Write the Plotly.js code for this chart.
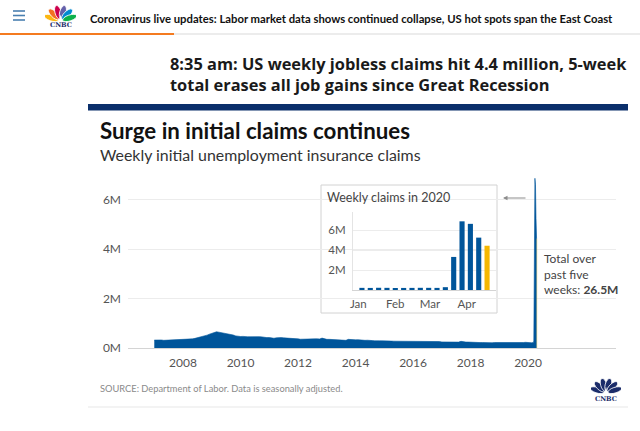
<!DOCTYPE html>
<html><head><meta charset="utf-8">
<script src="https://cdn.plot.ly/plotly-3.0.1.min.js"></script>
<style>html,body{margin:0;padding:0;background:#fff;overflow:hidden}#chart{width:640px;height:431px}</style>
</head><body><div id="chart"></div>
<script>
// ---- DATA (weekly initial claims, monthly readings in thousands) ----
const claims2007 = [320, 330, 320, 325, 310, 315, 305, 320, 315, 330, 335, 345];
const claims2008 = [345, 355, 365, 370, 370, 390, 410, 440, 465, 480, 520, 560];
const claims2009 = [585, 630, 655, 640, 625, 610, 565, 565, 545, 525, 490, 470];
const claims2010 = [465, 470, 455, 455, 455, 460, 460, 480, 460, 450, 430, 420];
const claims2011 = [425, 400, 395, 410, 420, 420, 410, 405, 410, 400, 395, 375];
const claims2012 = [370, 355, 360, 375, 375, 380, 370, 370, 370, 365, 400, 370];
const claims2013 = [350, 350, 345, 345, 345, 345, 340, 330, 310, 350, 335, 340];
const claims2014 = [330, 335, 320, 310, 310, 315, 295, 300, 290, 280, 290, 290];
const claims2015 = [295, 295, 285, 280, 275, 275, 270, 270, 265, 260, 270, 275];
const claims2016 = [280, 265, 260, 255, 265, 265, 260, 262, 255, 255, 250, 260];
const claims2017 = [245, 240, 245, 245, 240, 242, 245, 238, 270, 240, 240, 240];
const claims2018 = [230, 225, 225, 225, 220, 222, 215, 212, 208, 212, 222, 220];
const claims2019 = [222, 230, 215, 210, 215, 218, 212, 215, 212, 215, 222, 230];
const histYears = [2007,2008,2009,2010,2011,2012,2013,2014,2015,2016,2017,2018,2019];
const histByYear = [claims2007,claims2008,claims2009,claims2010,claims2011,claims2012,claims2013,
                    claims2014,claims2015,claims2016,claims2017,claims2018,claims2019];

const weeks2020 = ['2020-01-04','2020-01-11','2020-01-18','2020-01-25','2020-02-01','2020-02-08',
                   '2020-02-15','2020-02-22','2020-02-29','2020-03-07','2020-03-14','2020-03-21',
                   '2020-03-28','2020-04-04','2020-04-11','2020-04-18'];
const claims2020 = [214000, 207000, 223000, 216000, 203000, 206000, 211000, 219000, 217000, 211000,
                    282000, 3307000, 6867000, 6615000, 5237000, 4427000];

const mainTickVals = ['2008-01-01','2010-01-01','2012-01-01','2014-01-01','2016-01-01','2018-01-01','2020-01-01'];
const mainTickText = ['2008','2010','2012','2014','2016','2018','2020'];
const yTickVals = [0, 2000000, 4000000, 6000000];
const yTickText = ['0M','2M','4M','6M'];
const insetYTickVals = [2000000, 4000000, 6000000];
const insetYTickText = ['2M','4M','6M'];
const monthTickVals = ['2020-01-01','2020-02-01','2020-03-01','2020-04-01'];
const monthTickText = ['Jan','Feb','Mar','Apr'];

// ---- build series ----
const histDates = [], histClaims = [];
histYears.forEach((yr, i) => histByYear[i].forEach((v, m) => {
  histDates.push(yr + '-' + String(m + 1).padStart(2, '0') + '-01');
  histClaims.push(v * 1000);
}));
const allDates = histDates.concat(weeks2020);
const allClaims = histClaims.concat(claims2020);
const lastIdx = claims2020.length - 1;
const fiveWeekTotal = claims2020.slice(-5).reduce((a, b) => a + b, 0);
const fiveWeekText = (fiveWeekTotal / 1e6).toFixed(1) + 'M';

const BLUE = '#00559a', GOLD = '#f5b700', NAVY = '#0b2f6b';
const DAY = 86400000;

// ---- pixel helpers for page furniture ----
const L = 128, R = 616, T = 175, B = 348;
const px = x => (x - L) / (R - L);
const py = y => (B - y) / (B - T);

function peacock(colors) {
  const angles = [-70, -42, -14, 14, 42, 70];
  let s = '<svg xmlns="http://www.w3.org/2000/svg" viewBox="0 0 60 40">';
  angles.forEach((a, i) => {
    s += '<ellipse cx="30" cy="19" rx="6.2" ry="14.5" fill="' + colors[i] +
         '" stroke="#fff" stroke-width="1.6" transform="rotate(' + a + ' 30 38)"/>';
  });
  s += '<path d="M27 38 L30 24 L33 38 Z" fill="#fff"/></svg>';
  return 'data:image/svg+xml;charset=utf-8,' + encodeURIComponent(s);
}
const peacockColor = peacock(['#fcb711','#f37021','#cc004c','#6460aa','#0089d0','#0db14b']);
const peacockNavy = peacock(['#1b2c6a','#1b2c6a','#1b2c6a','#1b2c6a','#1b2c6a','#1b2c6a']);

const FONT = 'Lato, "Open Sans", sans-serif';
const HFONT = '"Open Sans", Lato, sans-serif';

const traces = [
  { type: 'scatter', mode: 'lines', x: allDates, y: allClaims, xaxis: 'x', yaxis: 'y',
    fill: 'tozeroy', fillcolor: BLUE, line: { color: BLUE, width: 0.6 }, hoverinfo: 'skip' },
  { type: 'bar', x: [weeks2020[lastIdx]], y: [claims2020[lastIdx]], xaxis: 'x', yaxis: 'y',
    width: [7 * DAY], offset: 0, marker: { color: GOLD, line: { width: 0 } }, hoverinfo: 'skip' },
  { type: 'bar', x: weeks2020, y: claims2020, xaxis: 'x2', yaxis: 'y2',
    width: weeks2020.map(() => 4.3 * DAY),
    marker: { color: claims2020.map((v, i) => i === lastIdx ? GOLD : BLUE), line: { width: 0 } },
    hoverinfo: 'skip' }
];

const ann = (x, y, text, size, color, extra) => Object.assign({
  xref: 'paper', yref: 'paper', x: px(x), y: py(y), text: text, showarrow: false,
  xanchor: 'left', yanchor: 'middle', font: { family: FONT, size: size, color: color }
}, extra || {});

const layout = {
  width: 640, height: 431,
  margin: { l: L, r: 640 - R, t: T, b: 431 - B, pad: 0 },
  paper_bgcolor: '#fff', plot_bgcolor: 'rgba(0,0,0,0)',
  showlegend: false, barmode: 'overlay',
  font: { family: FONT, color: '#555' },
  xaxis: { type: 'date', range: ['2006-02-01', '2023-01-22'], tickmode: 'array',
    tickvals: mainTickVals, ticktext: mainTickText, showgrid: false, zeroline: false,
    showline: true, linecolor: '#d4d4d4', linewidth: 1, ticks: '', ticklabelstandoff: 4,
    tickfont: { size: 12, color: '#555' }, fixedrange: true },
  yaxis: { range: [0, 7000000], tickmode: 'array', tickvals: yTickVals, ticktext: yTickText,
    showgrid: true, gridcolor: '#ececec', gridwidth: 1, zeroline: false, showline: false,
    ticks: '', ticklabelstandoff: 6, tickfont: { size: 12, color: '#555' }, fixedrange: true },
  xaxis2: { domain: [px(353), px(496)], anchor: 'y2', type: 'date',
    range: ['2019-12-27 12:00', '2020-04-25 12:00'], tickmode: 'array',
    tickvals: monthTickVals, ticktext: monthTickText, showgrid: false, zeroline: false,
    showline: true, linecolor: '#d4d4d4', ticks: '', ticklabelstandoff: 3,
    tickfont: { size: 11.5, color: '#555' }, fixedrange: true },
  yaxis2: { domain: [py(290), py(212)], anchor: 'x2', range: [0, 7800000], tickmode: 'array',
    tickvals: insetYTickVals, ticktext: insetYTickText, showgrid: true, gridcolor: '#ececec',
    zeroline: false, showline: true, linecolor: '#e4e4e4', ticks: '', ticklabelstandoff: 4,
    tickfont: { size: 11.5, color: '#555' }, fixedrange: true },
  shapes: [
    // inset panel
    { type: 'rect', xref: 'x2 domain', yref: 'y2 domain', x0: (321 - 353) / 143, x1: (497 - 353) / 143,
      y0: (290 - 313) / 78, y1: (290 - 185) / 78, fillcolor: '#fff',
      line: { color: '#d2d2d2', width: 1 }, layer: 'below' },
    // header furniture
    { type: 'line', xref: 'paper', yref: 'paper', x0: px(13), x1: px(25), y0: py(11), y1: py(11), line: { color: '#4a7fb0', width: 1.6 } },
    { type: 'line', xref: 'paper', yref: 'paper', x0: px(13), x1: px(25), y0: py(15.5), y1: py(15.5), line: { color: '#4a7fb0', width: 1.6 } },
    { type: 'line', xref: 'paper', yref: 'paper', x0: px(13), x1: px(25), y0: py(20), y1: py(20), line: { color: '#4a7fb0', width: 1.6 } },
    { type: 'line', xref: 'paper', yref: 'paper', x0: px(0), x1: px(174), y0: py(34), y1: py(34), line: { color: '#f47b20', width: 2 } },
    { type: 'line', xref: 'paper', yref: 'paper', x0: px(174), x1: px(640), y0: py(34), y1: py(34), line: { color: '#ececec', width: 2 } },
    { type: 'rect', xref: 'paper', yref: 'paper', x0: px(88), x1: px(628), y0: py(110.5), y1: py(104), fillcolor: NAVY, line: { width: 0 } },
    { type: 'line', xref: 'paper', yref: 'paper', x0: px(88), x1: px(628), y0: py(407), y1: py(407), line: { color: '#efefef', width: 1.5 } }
  ],
  images: [
    { source: peacockColor, xref: 'paper', yref: 'paper', x: px(45), y: py(3), sizex: 31 / (R - L), sizey: 19 / (B - T),
      xanchor: 'left', yanchor: 'top', sizing: 'stretch', layer: 'above' },
    { source: peacockNavy, xref: 'paper', yref: 'paper', x: px(591), y: py(376), sizex: 30 / (R - L), sizey: 18 / (B - T),
      xanchor: 'left', yanchor: 'top', sizing: 'stretch', layer: 'above' }
  ],
  annotations: [
    ann(60.5, 25, '<b>CNBC</b>', 7, '#1b2c6a', { xanchor: 'center', font: { family: 'DejaVu Serif, serif', size: 6.5, color: '#1b2c6a' } }),
    ann(88, 18, '<b>Coronavirus live updates: Labor market data shows continued collapse, US hot spots span the East Coast</b>', 11.3, '#111'),
    ann(168, 74.5, '<b>8:35 am: US weekly jobless claims hit 4.4 million, 5-week<br>total erases all job gains since Great Recession</b>', 16.4, '#1a1a1a',
        { align: 'left', font: { family: HFONT, size: 16.4, color: '#1a1a1a' } }),
    ann(98, 130, '<b>Surge in initial claims continues</b>', 22.3, '#111'),
    ann(98, 154, 'Weekly initial unemployment insurance claims', 15.9, '#333'),
    ann(325, 197, 'Weekly claims in 2020', 12.5, '#444'),
    ann(542, 274, 'Total over<br>past five<br>weeks: <b>' + fiveWeekText + '</b>', 12, '#444', { align: 'left' }),
    ann(98, 388, 'SOURCE: Department of Labor. Data is seasonally adjusted.', 9.3, '#8a8a8a'),
    ann(606, 399, '<b>CNBC</b>', 7, '#1b2c6a', { xanchor: 'center', font: { family: 'DejaVu Serif, serif', size: 6.5, color: '#1b2c6a' } }),
    { xref: 'paper', yref: 'paper', x: px(503), y: py(198), ax: 24, ay: 0, text: '', showarrow: true,
      arrowhead: 2, arrowsize: 0.9, arrowwidth: 1, arrowcolor: '#8c8c8c' }
  ]
};

Plotly.newPlot('chart', traces, layout, { staticPlot: true, displayModeBar: false });
</script></body></html>
